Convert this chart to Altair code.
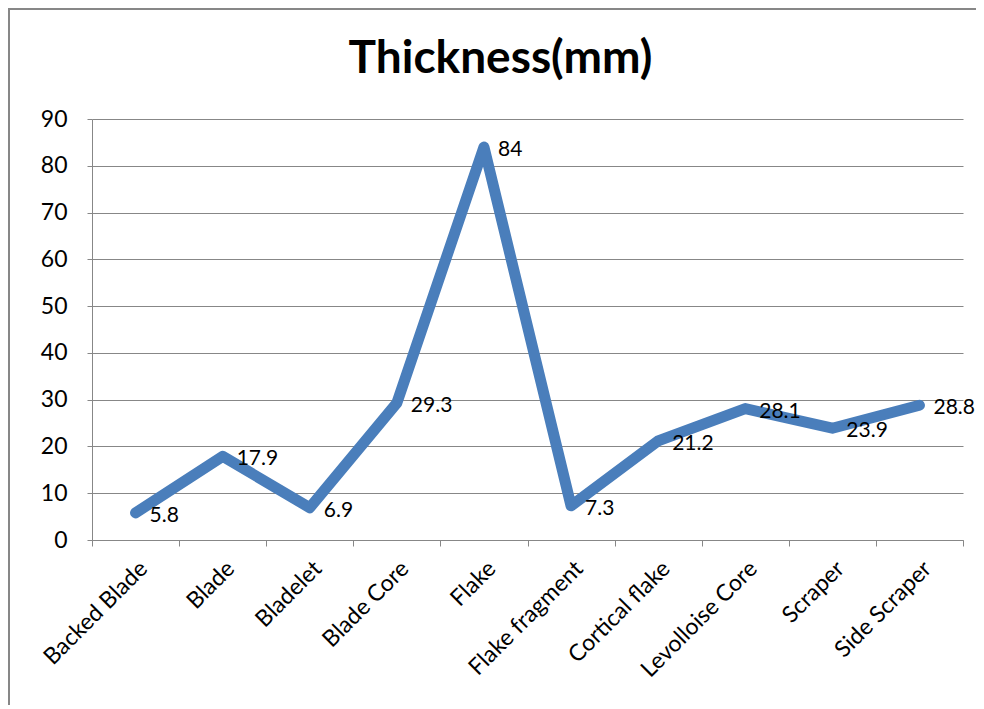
import altair as alt
import pandas as pd

categories = ["Backed Blade", "Blade", "Bladelet", "Blade Core", "Flake",
              "Flake fragment", "Cortical flake", "Levolloise Core", "Scraper", "Side Scraper"]
thickness = [5.8, 17.9, 6.9, 29.3, 84, 7.3, 21.2, 28.1, 23.9, 28.8]
y_ticks = [0, 10, 20, 30, 40, 50, 60, 70, 80, 90]

df = pd.DataFrame({"cat": categories, "val": thickness})

FONT = "Lato"
GRAY = "#878787"

x_enc = alt.X("cat:N", sort=categories, title=None,
              scale=alt.Scale(paddingInner=0, paddingOuter=0),
              axis=alt.Axis(labelAngle=-45, labelFontSize=23, labelFont=FONT, labelColor="black",
                            tickBand="extent", tickSize=6, tickColor=GRAY, domainColor=GRAY,
                            labelPadding=11, grid=False))
y_enc = alt.Y("val:Q", title=None,
              scale=alt.Scale(domain=[0, 90], nice=False),
              axis=alt.Axis(values=y_ticks, labelFontSize=23, labelFont=FONT, labelColor="black",
                            tickSize=5, tickColor=GRAY, domainColor=GRAY, gridColor=GRAY,
                            gridWidth=1.2, labelPadding=20))

frame = alt.Chart(df).mark_rect(fill=None, stroke=GRAY, strokeWidth=2).encode(
    x=alt.value(-83), x2=alt.value(1000), y=alt.value(-110), y2=alt.value(700)
)

line = alt.Chart(df).mark_line(color="#4a7ebb", strokeWidth=11, strokeCap="round",
                               strokeJoin="round").encode(x=x_enc, y=y_enc)

labels = alt.Chart(df).mark_text(align="left", baseline="middle", dx=14, dy=3,
                                 fontSize=21, font=FONT, color="black").encode(
    x=alt.X("cat:N", sort=categories), y="val:Q", text=alt.Text("val:Q"))

chart = alt.layer(frame, line, labels).properties(
    width=871, height=421,
    title=alt.TitleParams("Thickness(mm)", fontSize=46, font=FONT, fontWeight="bold",
                          anchor="middle", frame="group", offset=0, dx=-27, dy=75,
                          color="black"),
    autosize=alt.AutoSizeParams(type="none"),
    padding={"left": 84, "top": 111, "right": 13, "bottom": 165},
).configure_view(stroke=None)

chart.save("out.html", embed_options={"renderer": "svg", "actions": False})
